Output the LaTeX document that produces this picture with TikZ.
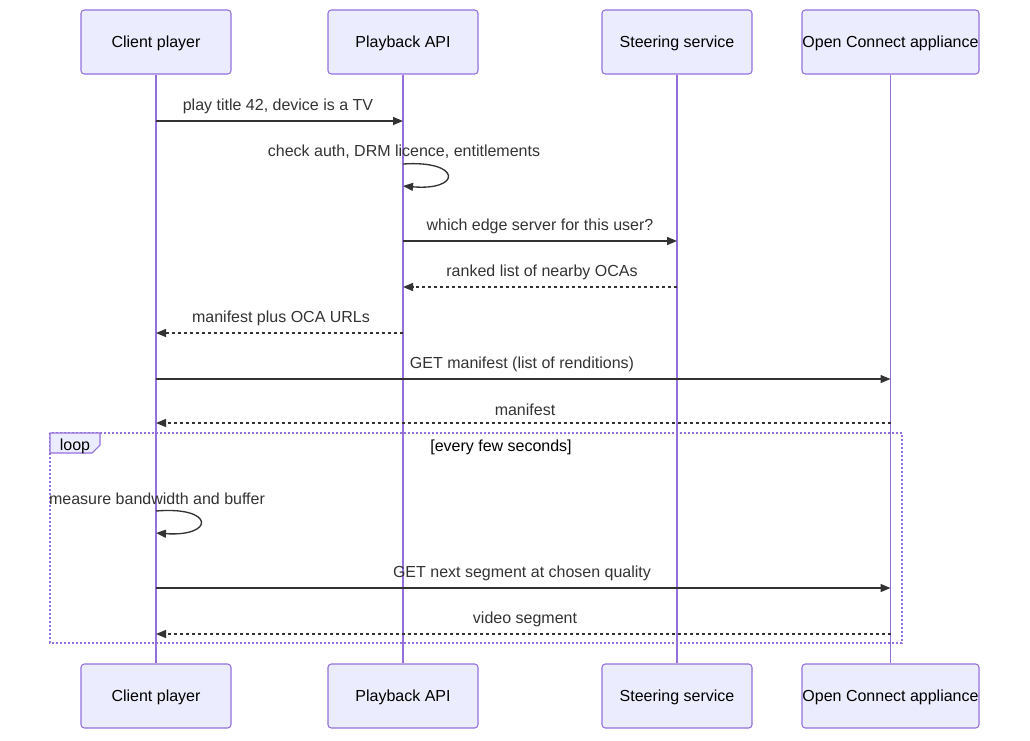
\documentclass[tikz,border=0pt]{standalone}
\usepackage{fontspec}
\setmainfont{Liberation Sans}
\usetikzlibrary{arrows.meta}
\definecolor{actfill}{HTML}{ECECFF}
\definecolor{actline}{HTML}{9370DB}
\definecolor{msgcol}{HTML}{333333}
\begin{document}
\begin{tikzpicture}[x=0.75pt,y=-0.75pt,font=\fontsize{12}{14}\selectfont,
  actor/.style={draw=actline,fill=actfill,rounded corners=2.5pt,line width=0.8pt,minimum height=48pt,inner sep=0pt,text depth=0pt},
  life/.style={draw=actline,line width=1.4pt},
  msg/.style={draw=msgcol,line width=1pt,-{Triangle[length=7.5pt,width=6pt]}},
  reply/.style={msg,dash pattern=on 2.25pt off 2.25pt},
  lbl/.style={text=msgcol,inner sep=0pt}]
\useasboundingbox (0,0) rectangle (1030,740);
\node[actor,minimum width=112.5pt] (cpt) at (156,42) {Client player};
\node[actor,minimum width=112.5pt] (api) at (403,42) {Playback API};
\node[actor,minimum width=112.5pt] (str) at (677,42) {Steering service};
\node[actor,minimum width=132.75pt] (oca) at (890.5,42) {Open Connect appliance};
\node[actor,minimum width=112.5pt] (cpb) at (156,696) {Client player};
\node[actor,minimum width=112.5pt] (apb) at (403,696) {Playback API};
\node[actor,minimum width=112.5pt] (stb) at (677,696) {Steering service};
\node[actor,minimum width=132.75pt] (ocb) at (890.5,696) {Open Connect appliance};
\draw[life] (cpt.south) -- (cpb.north);
\draw[life] (api.south) -- (apb.north);
\draw[life] (str.south) -- (stb.north);
\draw[life] (oca.south) -- (ocb.north);
\draw[msg] (cpt |- 0,121) -- (api |- 0,121);
\node[lbl] (m1) at (278,106) {play title 42, device is a TV};
\draw[msg] (api |- 0,164) .. controls (462,160) and (462,191) .. (api |- 0,186);
\node[lbl] (m2) at (404,152) {check auth, DRM licence, entitlements};
\draw[msg] (api |- 0,241) -- (str |- 0,241);
\node[lbl] (m3) at (540,226) {which edge server for this user?};
\draw[reply] (str |- 0,287) -- (api |- 0,287);
\node[lbl] (m4) at (542,272) {ranked list of nearby OCAs};
\draw[reply] (api |- 0,333) -- (cpt |- 0,333);
\node[lbl] (m5) at (281,318) {manifest plus OCA URLs};
\draw[msg] (cpt |- 0,379) -- (oca |- 0,379);
\node[lbl] (m6) at (522,364) {GET manifest (list of renditions)};
\draw[reply] (oca |- 0,423) -- (cpt |- 0,423);
\node[lbl] (m7) at (525,410) {manifest};
\draw[actline,line width=1pt,dash pattern=on 1.5pt off 1.5pt] (50,433) rectangle (902,643);
\draw[actline,fill=actfill,line width=0.8pt] (50,433) -- (100,433) -- (100,445) -- (92,453) -- (50,453) -- cycle;
\node[inner sep=0pt] (lp) at (75,446) {loop};
\node[inner sep=0pt] (lc) at (501,447) {[every few seconds]};
\draw[msg] (cpt |- 0,511) .. controls (215,506) and (215,537) .. (cpt |- 0,533);
\node[lbl] (m8) at (157,499) {measure bandwidth and buffer};
\draw[msg] (cpt |- 0,588) -- (oca |- 0,588);
\node[lbl] (m9) at (522,573) {GET next segment at chosen quality};
\draw[reply] (oca |- 0,634) -- (cpt |- 0,634);
\node[lbl] (m10) at (525,619) {video segment};
\end{tikzpicture}
\end{document}
